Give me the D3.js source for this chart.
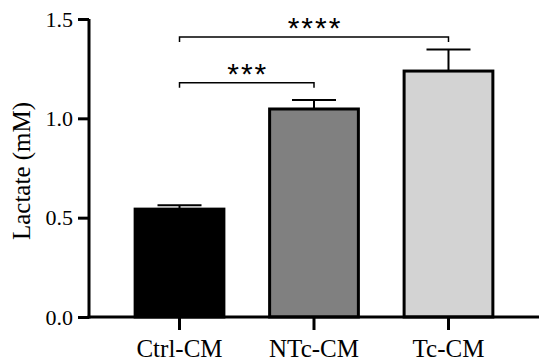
<!DOCTYPE html>
<html>
<head>
<meta charset="utf-8">
<script src="https://cdn.jsdelivr.net/npm/d3@7"></script>
<style>
  body { margin: 0; background: #fff; }
  svg { display: block; }
</style>
</head>
<body>
<div class="chart"></div>
<script>
var groups = ["Ctrl-CM", "NTc-CM", "Tc-CM"]
var means = [0.543, 1.047, 1.238]
var sems = [0.019, 0.045, 0.109]
var fills = ["#000000", "#808080", "#d3d3d3"]
var yTicks = [0, 0.5, 1.0, 1.5]
// significance brackets: from group, to group, bracket level (mM), label
var sigFrom = ["Ctrl-CM", "Ctrl-CM"]
var sigTo = ["NTc-CM", "Tc-CM"]
var sigLevel = [1.179, 1.41]
var sigLabel = ["***", "****"]

const W = 550, H = 362
const svg = d3.select('.chart')
  .append('svg')
  .attr('width', W)
  .attr('height', H)
  .style('background', '#fff')

const x = d3.scaleBand()
  .domain(groups)
  .range([89, 539])
  .paddingInner(0.34)
  .paddingOuter(0.343)

const y = d3.scaleLinear()
  .domain([0, 1.5])
  .range([317, 19])

const data = groups.map((g, i) => ({ g: g, m: means[i], e: sems[i], fill: fills[i] }))

// bars
svg.selectAll('rect.bar')
  .data(data)
  .enter()
  .append('rect')
  .attr('class', 'bar')
  .attr('x', d => x(d.g))
  .attr('y', d => y(d.m))
  .attr('width', x.bandwidth())
  .attr('height', d => y(0) - y(d.m))
  .attr('fill', d => d.fill)
  .attr('stroke', '#000')
  .attr('stroke-width', 3)

// error bars (upper only)
const cx = d => x(d.g) + x.bandwidth() / 2
svg.selectAll('line.err')
  .data(data)
  .enter()
  .append('line')
  .attr('x1', cx).attr('x2', cx)
  .attr('y1', d => y(d.m))
  .attr('y2', d => y(d.m + d.e))
  .attr('stroke', '#000')
  .attr('stroke-width', 2)
svg.selectAll('line.cap')
  .data(data)
  .enter()
  .append('line')
  .attr('x1', d => cx(d) - 22).attr('x2', d => cx(d) + 22)
  .attr('y1', d => y(d.m + d.e))
  .attr('y2', d => y(d.m + d.e))
  .attr('stroke', '#000')
  .attr('stroke-width', 2)

// y axis
const yAxis = svg.append('g')
  .attr('transform', 'translate(89,0)')
  .call(d3.axisLeft(y).tickValues(yTicks).tickFormat(d3.format('.1f')).tickSize(11).tickPadding(5))
yAxis.select('.domain').attr('stroke-width', 3).attr('d', `M0,${y(1.5)}V${y(0) + 1.5}`)
yAxis.selectAll('.tick line').attr('stroke-width', 3)
yAxis.selectAll('text')
  .attr('font-family', '"Liberation Serif", "Times New Roman", serif')
  .attr('font-size', 22)
  .attr('fill', '#000')

// x axis
const xAxis = svg.append('g')
  .attr('transform', `translate(0,${y(0)})`)
  .call(d3.axisBottom(x).tickSize(13).tickPadding(9))
xAxis.select('.domain').attr('stroke-width', 3).attr('d', 'M87.5,0H539')
xAxis.selectAll('.tick line').attr('stroke-width', 3)
xAxis.selectAll('text')
  .attr('font-family', '"Liberation Serif", "Times New Roman", serif')
  .attr('font-size', 25)
  .attr('fill', '#000')

// y label
svg.append('text')
  .attr('transform', `translate(30,${(y(0) + y(1.5)) / 2 + 3}) rotate(-90)`)
  .attr('text-anchor', 'middle')
  .attr('font-family', '"Liberation Serif", "Times New Roman", serif')
  .attr('font-size', 25)
  .text('Lactate (mM)')

// significance brackets
sigLabel.forEach((lab, i) => {
  const x1 = x(sigFrom[i]) + x.bandwidth() / 2
  const x2 = x(sigTo[i]) + x.bandwidth() / 2
  const yy = y(sigLevel[i])
  svg.append('path')
    .attr('d', `M${x1},${yy + 5}V${yy}H${x2}V${yy + 5}`)
    .attr('fill', 'none')
    .attr('stroke', '#000')
    .attr('stroke-width', 1.5)
  svg.append('text')
    .attr('x', (x1 + x2) / 2 + 1)
    .attr('y', yy + 1)
    .attr('text-anchor', 'middle')
    .attr('font-family', '"Liberation Sans", Arial, sans-serif')
    .attr('font-size', 30)
    .attr('letter-spacing', 2)
    .text(lab)
})
</script>
</body>
</html>
